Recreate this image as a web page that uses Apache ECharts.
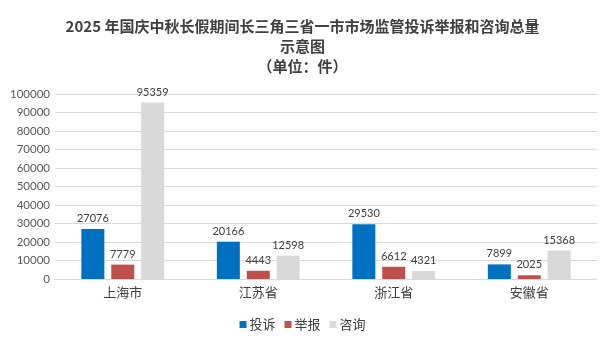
<!DOCTYPE html>
<html><head><meta charset="utf-8">
<script src="https://cdn.jsdelivr.net/npm/echarts@6/dist/echarts.min.js"></script>
<style>html,body{margin:0;padding:0;background:#fff}#c{width:605px;height:340px}</style>
</head><body><div id="c"></div>
<script>
const categories = ['上海市','江苏省','浙江省','安徽省'];
const complaints = [27076, 20166, 29530, 7899];
const reports = [7779, 4443, 6612, 2025];
const consults = [95359, 12598, 4321, 15368];
const seriesNames = ['投诉','举报','咨询'];
const colors = ['#0070C0','#C0504D','#D9D9D9'];
const font = "'Noto Sans CJK SC', Lato, sans-serif";
const chart = echarts.init(document.getElementById('c'));
const lbl = {show:true, position:'top', color:'#404040', fontSize:11, fontFamily:'Lato, sans-serif', distance:5};
chart.setOption({
  animation:false,
  title:{text:'2025 年国庆中秋长假期间长三角三省一市市场监管投诉举报和咨询总量\n示意图\n（单位：件）', left:'center', top:11,
    textStyle:{fontSize:15, fontWeight:'bold', color:'#404040', fontFamily:font, lineHeight:20}},
  legend:{data:seriesNames, bottom:4, left:'center', itemWidth:7, itemHeight:7, itemGap:9, icon:'rect',
    textStyle:{fontSize:13, color:'#404040', fontFamily:font, padding:[0,0,0,-2]}},
  grid:{left:55, right:8, top:94, bottom:61},
  xAxis:{type:'category', data:categories, axisTick:{show:false},
    axisLine:{lineStyle:{color:'#D9D9D9'}},
    axisLabel:{fontSize:13, color:'#404040', fontFamily:font, margin:7}},
  yAxis:{type:'value', min:0, max:100000, interval:10000,
    axisLabel:{fontSize:11.5, color:'#595959', fontFamily:'Lato, sans-serif', margin:5, formatter:(v)=>String(v)},
    splitLine:{lineStyle:{color:'#D9D9D9'}}},
  series:[
    {name:seriesNames[0], type:'bar', data:complaints, itemStyle:{color:colors[0]}, barWidth:23, barGap:'30%', label:lbl},
    {name:seriesNames[1], type:'bar', data:reports, itemStyle:{color:colors[1]}, barWidth:23, barGap:'30%', label:lbl},
    {name:seriesNames[2], type:'bar', data:consults, itemStyle:{color:colors[2]}, barWidth:23, barGap:'30%', label:lbl}
  ]
});
</script></body></html>
